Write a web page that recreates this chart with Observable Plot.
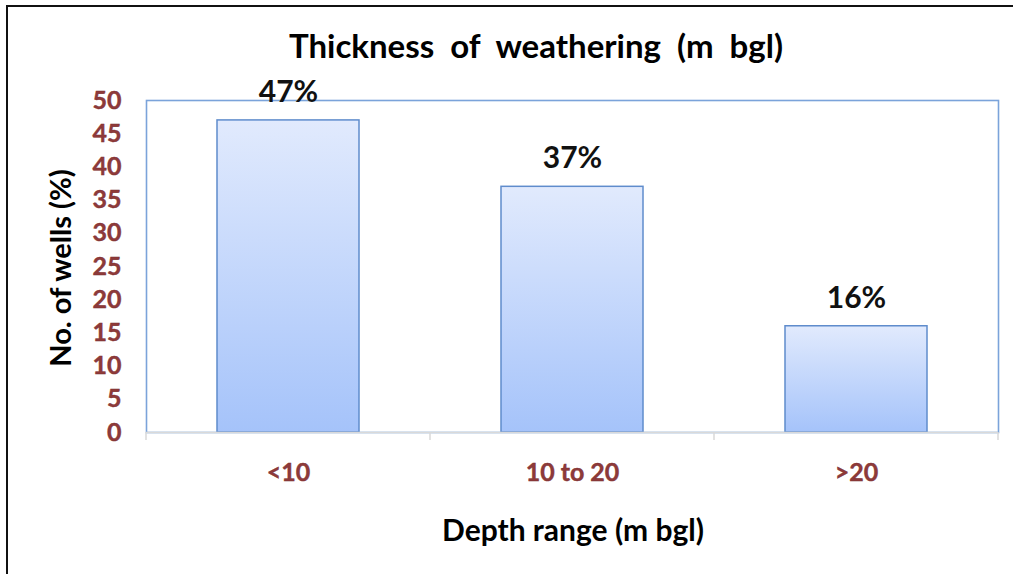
<!DOCTYPE html>
<html><head><meta charset="utf-8">
<script src="https://cdn.jsdelivr.net/npm/d3@7"></script>
<script src="https://cdn.jsdelivr.net/npm/@observablehq/plot@0.6"></script>
<style>
body{margin:0;background:#fff;}
#wrap{position:relative;width:1013px;height:574px;overflow:hidden;font-family:Lato,"Open Sans",sans-serif;}
#border{position:absolute;left:6px;top:5px;width:1020px;height:600px;border-top:2px solid #111;border-left:2px solid #111;}
.lab{position:absolute;font-weight:bold;color:#000;white-space:nowrap;}
#title{left:536px;top:45px;transform:translate(-50%,-50%);font-size:33px;font-weight:bold;}
#ylab{left:59px;top:268px;transform:translate(-50%,-50%) rotate(-90deg);font-size:29px;}
#xlab{left:573px;top:529px;transform:translate(-50%,-50%);font-size:30px;}
#chart{position:absolute;left:0;top:0;}
</style></head>
<body>
<div id="wrap">
<div id="border"></div>
<div id="chart"></div>
<div class="lab" id="title">Thickness &nbsp;of &nbsp;weathering &nbsp;(m &nbsp;bgl)</div>
<div class="lab" id="ylab">No. of wells (%)</div>
<div class="lab" id="xlab">Depth range (m bgl)</div>
</div>
<script>
const categories = ["<10", "10 to 20", ">20"];
const values = [47, 37, 16];
const yTicks = [0, 5, 10, 15, 20, 25, 30, 35, 40, 45, 50];

const data = categories.map((c, i) => ({cat: c, v: values[i]}));
const tickColor = "#8e3a3a";

const plot = Plot.plot({
  width: 1013,
  height: 574,
  marginTop: 100,
  marginBottom: 142,
  marginLeft: 146,
  marginRight: 15,
  style: {fontFamily: "Lato, 'Open Sans', sans-serif", background: "transparent"},
  x: {domain: categories, paddingInner: 0.5, paddingOuter: 0.25, label: null, tickSize: 0, tickPadding: 31},
  y: {domain: [0, 50], ticks: yTicks, label: null, tickSize: 0, tickPadding: 25},
  marks: [
    Plot.frame({stroke: "#7ba3da", strokeWidth: 1.6}),
    Plot.barY(data, {x: "cat", y: "v", fill: "url(#barGrad)", stroke: "#5f8ccc", strokeWidth: 1.5}),
    Plot.ruleY([0], {stroke: "#d9d9d9", strokeWidth: 1.5}),
    Plot.text(data, {x: "cat", y: "v", text: d => d.v + "%", dy: -28, fontSize: 30, fontWeight: "bold", fill: "#111"})
  ]
});

const svg = d3.select(plot);
const defs = svg.insert("defs", ":first-child");
const g = defs.append("linearGradient").attr("id", "barGrad").attr("x1", 0).attr("y1", 0).attr("x2", 0).attr("y2", 1);
g.append("stop").attr("offset", "0%").attr("stop-color", "#e1eafd");
g.append("stop").attr("offset", "100%").attr("stop-color", "#a5c3fa");

// style axis tick labels
svg.selectAll("g[aria-label='x-axis tick label'], g[aria-label='y-axis tick label']")
  .attr("fill", tickColor).attr("stroke", "#7a2e2e").attr("stroke-width", 0.4)
  .style("font-weight", "bold").style("font-size", "25px");

// band separator ticks under baseline, from the library's x scale
const xs = plot.scale("x");
const ys = plot.scale("y");
const y0 = ys.apply(0);
const step = xs.step;
const starts = categories.map(c => xs.apply(c) - (step - xs.bandwidth) / 2);
const edges = [...starts, starts[starts.length - 1] + step];
svg.append("g").selectAll("line").data(edges).join("line")
  .attr("x1", d => d).attr("x2", d => d).attr("y1", y0).attr("y2", y0 + 8)
  .attr("stroke", "#d9d9d9").attr("stroke-width", 1.5);

document.getElementById("chart").appendChild(plot);
</script>
</body></html>
